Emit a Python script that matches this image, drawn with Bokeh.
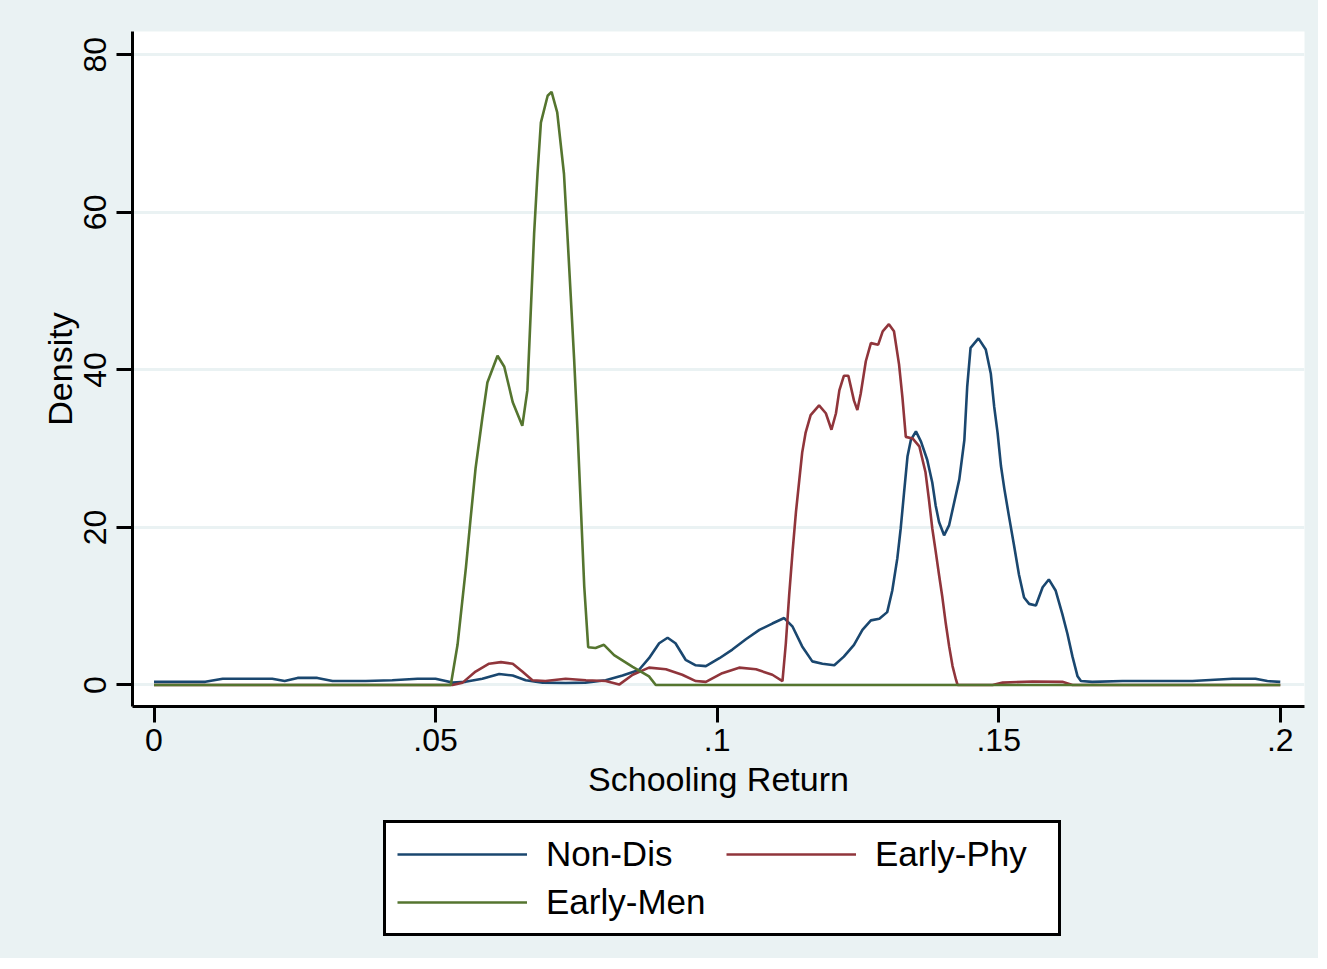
from bokeh.plotting import figure
from bokeh.models import Range1d, FixedTicker, Legend, LegendItem
from bokeh.layouts import column
from bokeh.embed import file_html
from bokeh.resources import INLINE

# ---------------- data ----------------
series_names = ["Non-Dis", "Early-Phy", "Early-Men"]

x_nondis = [0.0, 0.0091, 0.0122, 0.0157, 0.0210, 0.0232, 0.0255, 0.0290, 0.0317, 0.0376,
            0.0423, 0.0468, 0.0500, 0.0518, 0.0530, 0.0553, 0.0583, 0.0613, 0.0637, 0.0660,
            0.0690, 0.0731, 0.0766, 0.0802, 0.0832, 0.0861, 0.0879, 0.0897, 0.0912, 0.0926,
            0.0944, 0.0962, 0.0980, 0.1004, 0.1027, 0.1051, 0.1075, 0.1098, 0.1119, 0.1134,
            0.1151, 0.1169, 0.1187, 0.1208, 0.1225, 0.1243, 0.1258, 0.1273, 0.1288, 0.1302,
            0.1311, 0.1320, 0.1326, 0.1332, 0.1338, 0.1344, 0.1353, 0.1362, 0.1373, 0.1382,
            0.1388, 0.1394, 0.1403, 0.1412, 0.1421, 0.1430, 0.1439, 0.1444, 0.1450, 0.1464,
            0.1477, 0.1486, 0.1492, 0.1498, 0.1504, 0.1510, 0.1518, 0.1527, 0.1536, 0.1545,
            0.1554, 0.1566, 0.1578, 0.1589, 0.1601, 0.1613, 0.1622, 0.1631, 0.1640, 0.1646,
            0.1666, 0.1720, 0.1773, 0.1844, 0.1915, 0.1956, 0.1977, 0.2000]
y_nondis = [0.4, 0.4, 0.8, 0.8, 0.8, 0.5, 0.9, 0.9, 0.5, 0.5,
            0.6, 0.8, 0.8, 0.5, 0.3, 0.4, 0.8, 1.4, 1.2, 0.6,
            0.3, 0.25, 0.3, 0.6, 1.2, 1.9, 3.4, 5.3, 6.0, 5.3,
            3.2, 2.5, 2.4, 3.4, 4.5, 5.8, 7.0, 7.8, 8.5, 7.4,
            4.9, 3.0, 2.7, 2.5, 3.6, 5.1, 7.0, 8.2, 8.4, 9.25,
            12.0, 16.1, 19.9, 24.5, 29.0, 31.1, 32.2, 30.9, 28.6, 25.7,
            22.8, 20.7, 19.0, 20.3, 23.2, 26.1, 31.1, 37.8, 42.8, 44.0,
            42.6, 39.5, 35.3, 32.0, 27.8, 24.9, 21.5, 17.8, 14.0, 11.1,
            10.3, 10.1, 12.4, 13.4, 12.0, 9.0, 6.5, 3.6, 1.1, 0.5,
            0.4, 0.5, 0.5, 0.5, 0.8, 0.8, 0.5, 0.4]

x_earlyphy = [0.0, 0.0530, 0.0548, 0.0571, 0.0595, 0.0616, 0.0637, 0.0654, 0.0672, 0.0695,
              0.0731, 0.0767, 0.0802, 0.0826, 0.0850, 0.0879, 0.0909, 0.0938, 0.0962, 0.0980,
              0.1009, 0.1039, 0.1069, 0.1098, 0.1116, 0.1122, 0.1128, 0.1134, 0.1140, 0.1146,
              0.1151, 0.1157, 0.1166, 0.1181, 0.1193, 0.1203, 0.1211, 0.1217, 0.1225, 0.1233,
              0.1243, 0.1249, 0.1255, 0.1264, 0.1273, 0.1286, 0.1294, 0.1305, 0.1314, 0.1323,
              0.1329, 0.1335, 0.1347, 0.1359, 0.1370, 0.1376, 0.1382, 0.1388, 0.1394, 0.1400,
              0.1406, 0.1412, 0.1418, 0.1424, 0.1427, 0.1489, 0.1507, 0.1560, 0.1613, 0.1631,
              0.2000]
y_earlyphy = [0.0, 0.0, 0.3, 1.7, 2.7, 2.9, 2.7, 1.7, 0.6, 0.5,
              0.8, 0.6, 0.5, 0.05, 1.3, 2.2, 2.0, 1.3, 0.5, 0.4,
              1.5, 2.2, 2.0, 1.3, 0.5, 5.3, 11.5, 17.0, 22.0, 26.1,
              29.5, 32.0, 34.25, 35.5, 34.5, 32.4, 34.5, 37.4, 39.25, 39.25,
              36.1, 34.9, 37.0, 41.1, 43.4, 43.2, 44.9, 45.8, 44.9, 40.7,
              36.5, 31.5, 31.3, 30.3, 27.0, 23.6, 19.9, 17.0, 14.0, 11.1,
              7.8, 4.9, 2.4, 0.7, 0.0, 0.0, 0.3, 0.45, 0.4, 0.0,
              0.0]

x_earlymen = [0.0, 0.0527, 0.0539, 0.0554, 0.0562, 0.0571, 0.0583, 0.0592, 0.0610, 0.0622,
              0.0637, 0.0654, 0.0663, 0.0669, 0.0675, 0.0681, 0.0687, 0.0699, 0.0706, 0.0716,
              0.0728, 0.0734, 0.0740, 0.0746, 0.0752, 0.0758, 0.0764, 0.0771, 0.0784, 0.0799,
              0.0817, 0.0850, 0.0879, 0.0891, 0.2000]
y_earlymen = [0.0, 0.0, 5.1, 15.0, 21.0, 27.5, 33.9, 38.4, 41.8, 40.4,
              35.9, 32.9, 37.4, 47.4, 57.3, 64.9, 71.4, 74.8, 75.3, 72.7,
              64.9, 57.3, 49.4, 41.4, 32.4, 22.5, 12.5, 4.8, 4.7, 5.1,
              3.8, 2.3, 1.1, 0.0, 0.0]

x_ticks = [0, 0.05, 0.1, 0.15, 0.2]
x_tick_labels = ["0", ".05", ".1", ".15", ".2"]
y_ticks = [0, 20, 40, 60, 80]
y_tick_labels = ["0", "20", "40", "60", "80"]

x_title = "Schooling Return"
y_title = "Density"

# ---------------- styling ----------------
FONT = "Liberation Sans"
BG = "#eaf2f3"
colors = ["#1a476f", "#90353b", "#55752f"]
xs = [x_nondis, x_earlyphy, x_earlymen]
ys = [y_nondis, y_earlyphy, y_earlymen]

p = figure(frame_width=1172, frame_height=675, output_backend="svg", toolbar_location=None,
           x_range=Range1d(-0.00382, 0.2043), y_range=Range1d(-2.73, 82.96),
           min_border_left=132, min_border_top=31, min_border_right=14,
           min_border_bottom=94)
p.background_fill_color = "white"
p.border_fill_color = BG
p.outline_line_color = None

# grid
p.xgrid.visible = False
p.ygrid.ticker = FixedTicker(ticks=y_ticks)
p.ygrid.grid_line_color = BG
p.ygrid.grid_line_width = 3

# axes
for ax in (p.xaxis[0], p.yaxis[0]):
    ax.axis_line_width = 3
    ax.axis_line_color = "black"
    ax.major_tick_line_width = 3
    ax.major_tick_line_color = "black"
    ax.major_tick_in = 0
    ax.major_tick_out = 16
    ax.minor_tick_line_color = None
    ax.major_label_text_font = FONT
    ax.major_label_text_font_size = "32px"
    ax.major_label_text_color = "black"
    ax.axis_label_text_font = FONT
    ax.axis_label_text_font_size = "34px"
    ax.axis_label_text_font_style = "normal"
    ax.axis_label_text_color = "black"

p.xaxis.ticker = FixedTicker(ticks=x_ticks)
p.xaxis.major_label_overrides = {t: l for t, l in zip(x_ticks, x_tick_labels)}
p.xaxis.major_label_standoff = 6
p.xaxis.axis_label = x_title
p.xaxis.axis_label_standoff = 6

p.yaxis.ticker = FixedTicker(ticks=y_ticks)
p.yaxis.major_label_overrides = {t: l for t, l in zip(y_ticks, y_tick_labels)}
p.yaxis.major_label_orientation = "vertical"
p.yaxis.major_label_standoff = 10
p.yaxis.axis_label = y_title
p.yaxis.axis_label_standoff = 3

for xv, yv, c in zip(xs, ys, colors):
    p.line(xv, yv, line_color=c, line_width=2.6)

# ---------------- legend strip (second figure, same background) ----------------
pl = figure(width=1318, height=158, output_backend="svg", toolbar_location=None,
            x_axis_location=None, y_axis_location=None,
            x_range=Range1d(10, 11), y_range=Range1d(10, 11), min_border=0)
pl.background_fill_color = BG
pl.background_fill_alpha = 0
pl.border_fill_color = BG
pl.outline_line_color = None
pl.grid.visible = False
leg_renderers = [pl.line(xv, yv, line_color=c, line_width=2.6) for xv, yv, c in zip(xs, ys, colors)]

legend = Legend(items=[LegendItem(label=n, renderers=[r]) for n, r in zip(series_names, leg_renderers)],
                orientation="horizontal", ncols=2, location=(251, 22))
legend.border_line_color = "black"
legend.border_line_width = 3
legend.border_line_alpha = 1
legend.background_fill_color = "white"
legend.background_fill_alpha = 1
legend.label_text_font = FONT
legend.label_text_font_size = "35px"
legend.label_text_color = "black"
legend.glyph_width = 130
legend.glyph_height = 36
legend.label_standoff = 19
legend.label_width = 172
legend.label_height = 36
legend.spacing = 8
legend.padding = 11
legend.margin = 0
pl.add_layout(legend, "center")

layout = column(p, pl, spacing=0, styles={"background-color": BG})
open("out.html", "w").write(file_html(layout, INLINE))
